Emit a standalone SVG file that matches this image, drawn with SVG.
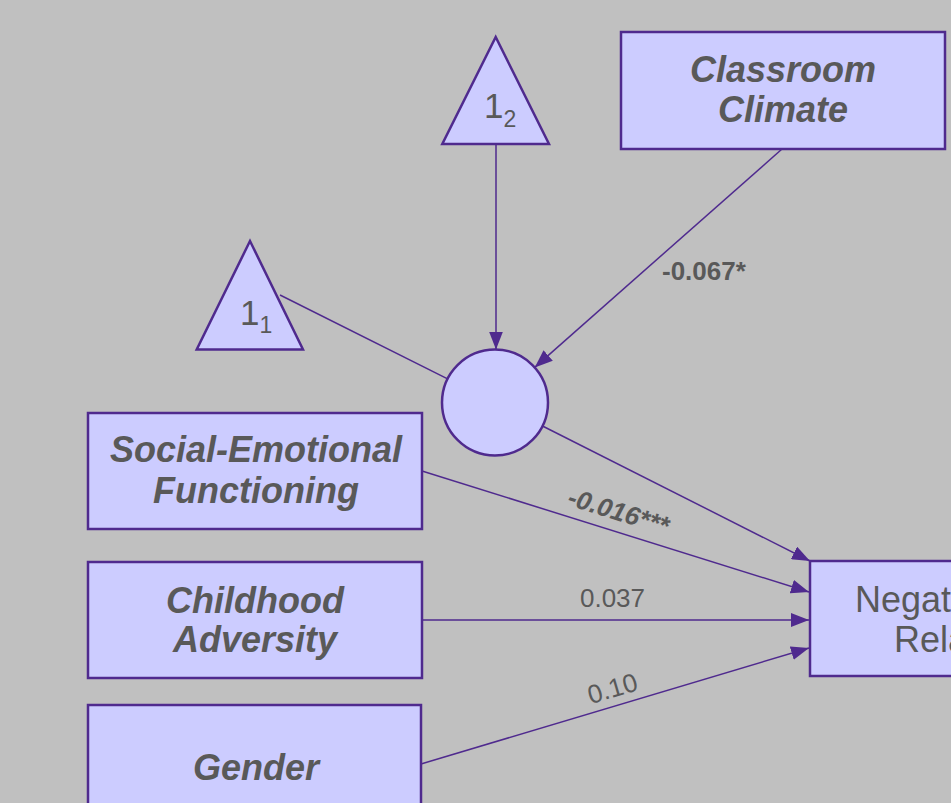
<svg xmlns="http://www.w3.org/2000/svg" width="951" height="803" viewBox="0 0 951 803">
<defs>
<marker id="arr" markerUnits="userSpaceOnUse" markerWidth="18" markerHeight="14" refX="18" refY="7" orient="auto">
<path d="M0,0 L18,7 L0,14 z" fill="#4f2a8e"/>
</marker>
<style>
.node{fill:#ccccff;stroke:#4f2a8e;stroke-width:2.5}
.lbl{font-family:"Liberation Sans",Arial,sans-serif;fill:#595959}
.big{font-size:36px;font-weight:bold;font-style:italic}
.reg{font-size:36px}
.edge{stroke:#4f2a8e;stroke-width:1.5;fill:none}
.el{font-size:26px}
</style>
</defs>
<rect x="0" y="0" width="951" height="803" fill="#c0c0c0"/>
<g id="connectors">
<line class="edge" x1="496" y1="144" x2="496" y2="349.5" marker-end="url(#arr)"/>
<line class="edge" x1="782" y1="149" x2="534.7" y2="367.4" marker-end="url(#arr)"/>
<line class="edge" x1="280" y1="295" x2="447.6" y2="378.8"/>
<line class="edge" x1="542.5" y1="426" x2="810" y2="561" marker-end="url(#arr)"/>
<line class="edge" x1="422" y1="471" x2="809" y2="592" marker-end="url(#arr)"/>
<line class="edge" x1="422" y1="620" x2="809" y2="620" marker-end="url(#arr)"/>
<line class="edge" x1="421" y1="764" x2="809" y2="648" marker-end="url(#arr)"/>
<text class="lbl el" x="662" y="280" font-weight="bold">-0.067*</text>
<text class="lbl el" x="0" y="0" font-weight="bold" font-style="italic" text-anchor="middle" transform="translate(616,520) rotate(17)">-0.016***</text>
<text class="lbl el" x="612.5" y="607" text-anchor="middle">0.037</text>
<text class="lbl el" x="0" y="0" text-anchor="middle" transform="translate(615,697) rotate(-16.5)">0.10</text>
</g>
<g id="one2">
<polygon class="node" points="495.7,37 442.3,144 549,144"/>
<text class="lbl" x="484" y="118" font-size="35">1<tspan font-size="23" dy="9">2</tspan></text>
</g>
<g id="one1">
<polygon class="node" points="250,241 196.7,349.5 303,349.5"/>
<text class="lbl" x="240" y="325" font-size="35">1<tspan font-size="23" dy="8">1</tspan></text>
</g>
<g id="latent">
<circle class="node" cx="495" cy="402.5" r="53"/>
</g>
<g id="classroom">
<rect class="node" x="621" y="32" width="324" height="117"/>
<text class="lbl big" x="783" y="82" text-anchor="middle">Classroom</text>
<text class="lbl big" x="783" y="122" text-anchor="middle">Climate</text>
</g>
<g id="social">
<rect class="node" x="88" y="413" width="334" height="116"/>
<text class="lbl big" x="256" y="462" text-anchor="middle">Social-Emotional</text>
<text class="lbl big" x="256" y="503" text-anchor="middle">Functioning</text>
</g>
<g id="childhood">
<rect class="node" x="88" y="562" width="334" height="116"/>
<text class="lbl big" x="255" y="613" text-anchor="middle">Childhood</text>
<text class="lbl big" x="255" y="652" text-anchor="middle">Adversity</text>
</g>
<g id="gender">
<rect class="node" x="88" y="705" width="333" height="117"/>
<text class="lbl big" x="256" y="780" text-anchor="middle">Gender</text>
</g>
<g id="negative">
<rect class="node" x="810" y="561" width="400" height="115"/>
<text class="lbl reg" x="855" y="612">Negative</text>
<text class="lbl reg" x="894" y="652">Relationship</text>
</g>
</svg>
